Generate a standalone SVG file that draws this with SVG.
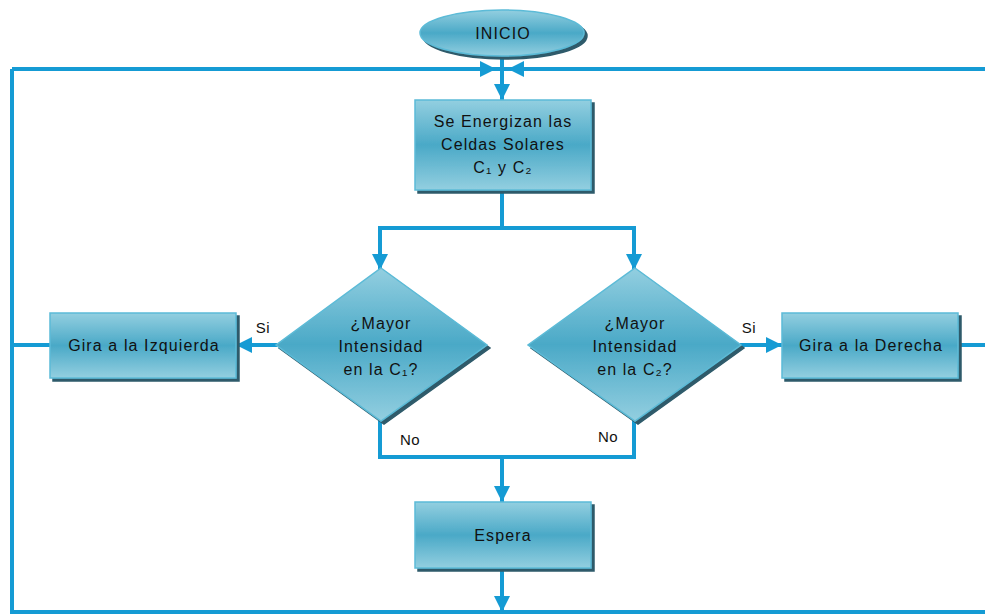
<svg xmlns="http://www.w3.org/2000/svg" width="985" height="615" viewBox="0 0 985 615">
<defs>
<linearGradient id="g" x1="0" y1="0" x2="0" y2="1">
<stop offset="0" stop-color="#93cfe0"/>
<stop offset="0.5" stop-color="#4aa9c7"/>
<stop offset="1" stop-color="#93cfe0"/>
</linearGradient>
<marker id="ah" viewBox="0 0 10 10" refX="10" refY="5" markerWidth="4" markerHeight="4" orient="auto" markerUnits="strokeWidth">
<path d="M0,0 L10,5 L0,10 z" fill="#159bd4"/>
</marker>
<filter id="sh" x="-10%" y="-10%" width="130%" height="130%">
<feOffset dx="3" dy="3" in="SourceAlpha" result="o"/>
<feFlood flood-color="#2d5a6a"/>
<feComposite in2="o" operator="in"/>
<feMerge><feMergeNode/><feMergeNode in="SourceGraphic"/></feMerge>
</filter>
</defs>
<style>
.n{fill:url(#g);stroke:#5cbbd7;stroke-width:1.5;filter:url(#sh)}
.c{fill:none;stroke:#159bd4;stroke-width:4}
.a{marker-end:url(#ah)}
text{font-family:"Liberation Sans",Arial,sans-serif;font-size:16px;letter-spacing:1.1px;fill:#111;text-anchor:middle}
.l{font-size:15px;letter-spacing:0.5px}
</style>
<rect width="985" height="615" fill="#fff"/>
<g id="connectors">
<path class="c" d="M12,69 H985 M12,69 V612 H985 M12,345 H50"/>
<path class="c a" d="M12,69 H496"/>
<path class="c a" d="M985,69 H508"/>
<path class="c a" d="M502,56 V100"/>
<path class="c" d="M502,190 V228 M380,228 H634"/>
<path class="c a" d="M380,226 V270"/>
<path class="c a" d="M634,226 V270"/>
<path class="c a" d="M277,345 H236"/>
<path class="c a" d="M740,345 H782"/>
<path class="c" d="M958,345 H985"/>
<path class="c" d="M380,420 V457 H634 V420"/>
<path class="c a" d="M502,455 V502"/>
<path class="c a" d="M502,568 V612"/>
<text class="l" x="263" y="333">Si</text>
<text class="l" x="749" y="333">Si</text>
<text class="l" x="410" y="445">No</text>
<text class="l" x="608" y="442">No</text>
</g>
<g id="inicio">
<ellipse class="n" cx="502" cy="33" rx="82" ry="23"/>
<text x="503" y="39">INICIO</text>
</g>
<g id="energizan">
<rect class="n" x="415" y="100" width="176" height="90"/>
<text x="503" y="127">Se Energizan las</text>
<text x="503" y="150">Celdas Solares</text>
<text x="503" y="173">C₁ y C₂</text>
</g>
<g id="decision1">
<polygon class="n" points="381,268 487,345 381,421 276,345"/>
<text x="381" y="329">¿Mayor</text>
<text x="381" y="352">Intensidad</text>
<text x="381" y="375">en la C₁?</text>
</g>
<g id="decision2">
<polygon class="n" points="635,268 741,345 635,421 528,345"/>
<text x="635" y="329">¿Mayor</text>
<text x="635" y="352">Intensidad</text>
<text x="635" y="375">en la C₂?</text>
</g>
<g id="izquierda">
<rect class="n" x="50" y="313" width="186" height="65"/>
<text x="144" y="351">Gira a la Izquierda</text>
</g>
<g id="derecha">
<rect class="n" x="782" y="313" width="176" height="65"/>
<text x="871" y="351">Gira a la Derecha</text>
</g>
<g id="espera">
<rect class="n" x="415" y="502" width="176" height="66"/>
<text x="503" y="541">Espera</text>
</g>
</svg>
